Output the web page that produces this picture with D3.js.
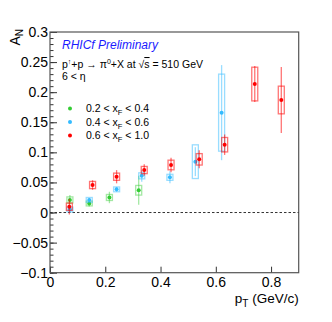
<!DOCTYPE html>
<html>
<head>
<meta charset="utf-8">
<script src="https://cdn.jsdelivr.net/npm/d3@7"></script>
<style>
  body { margin: 0; background: #fff; }
  svg { font-family: "Liberation Sans", Arial, sans-serif; }
</style>
</head>
<body>
<svg id="chart" width="332" height="322"></svg>
<script>
'use strict';

// pT bins and A_N per xF range
const ptLow = [0.072, 0.142, 0.215, 0.321];
const anLow = [0.021, 0.015, 0.025, 0.037];
const statLow = [0.008, 0.005, 0.0095, 0.024];
const sysLow = [0.005, 0.004, 0.005, 0.008];

const ptMid = [0.072, 0.142, 0.241, 0.332, 0.434, 0.526, 0.621];
const anMid = [0.005, 0.021, 0.0385, 0.061, 0.0585, 0.0845, 0.166];
const statMid = [0.005, 0.003, 0.004, 0.010, 0.010, 0.024, 0.079];
const sysMid = [0.004, 0.004, 0.004, 0.005, 0.005, 0.028, 0.064];

const ptHigh = [0.070, 0.154, 0.241, 0.341, 0.438, 0.540, 0.632, 0.741, 0.837];
const anHigh = [0.0096, 0.0457, 0.0595, 0.0706, 0.079, 0.0884, 0.1127, 0.2135, 0.187];
const statHigh = [0.013, 0.008, 0.011, 0.0095, 0.012, 0.015, 0.017, 0.030, 0.055];
const sysHigh = [0.006, 0.006, 0.006, 0.006, 0.008, 0.0095, 0.012, 0.028, 0.023];

const legendLabels = [['0.2', '0.4'], ['0.4', '0.6'], ['0.6', '1.0']];
const xTicks = [0, 0.2, 0.4, 0.6, 0.8];
const yTicks = [-0.1, -0.05, 0, 0.05, 0.1, 0.15, 0.2, 0.25, 0.3];

const series = [
    {pt: ptLow, an: anLow, stat: statLow, sys: sysLow, color: '#33cc33', light: 'rgba(51,204,51,0.45)'},
    {pt: ptMid, an: anMid, stat: statMid, sys: sysMid, color: '#33bbff', light: 'rgba(51,187,255,0.5)'},
    {pt: ptHigh, an: anHigh, stat: statHigh, sys: sysHigh, color: '#ff0000', light: 'rgba(255,0,0,0.55)'}
];

const svg = d3.select('#chart');
const padL = 50, padR = 298.7, padT = 32, padB = 272.7;

const x = d3.scaleLinear().domain([0, 0.9]).range([padL, padR]);
const y = d3.scaleLinear().domain([-0.1, 0.3]).range([padB, padT]);

const fmt = d => (d < 0 ? '\u2212' : '') + String(Math.abs(Math.round(d * 100) / 100));

// minor y ticks
svg.append('g')
    .attr('transform', `translate(${padL},0)`)
    .call(d3.axisLeft(y).tickValues(d3.range(-0.1, 0.3001, 0.01)).tickSize(-3.5).tickFormat(''))
    .call(g => g.select('.domain').remove())
    .selectAll('line').attr('stroke', '#333');

// major y ticks
svg.append('g')
    .attr('transform', `translate(${padL},0)`)
    .call(d3.axisLeft(y).tickValues(yTicks).tickSize(-7).tickPadding(2).tickFormat(fmt))
    .call(g => g.select('.domain').remove())
    .call(g => g.selectAll('line').attr('stroke', '#333'))
    .call(g => g.selectAll('text').attr('font-size', 14).attr('fill', '#000')
        .attr('font-family', '"Liberation Sans", Arial, sans-serif'));

// x ticks
svg.append('g')
    .attr('transform', `translate(0,${padB})`)
    .call(d3.axisBottom(x).tickValues(xTicks).tickSize(-6).tickPadding(4.5).tickFormat(d => d === 0 ? '0' : fmt(d)))
    .call(g => g.select('.domain').remove())
    .call(g => g.selectAll('line').attr('stroke', '#333'))
    .call(g => g.selectAll('text').attr('font-size', 14).attr('fill', '#000')
        .attr('font-family', '"Liberation Sans", Arial, sans-serif'));

// frame
svg.append('rect')
    .attr('x', padL).attr('y', padT)
    .attr('width', padR - padL).attr('height', padB - padT)
    .attr('fill', 'none').attr('stroke', '#555').attr('stroke-width', 1.2);

// zero line
svg.append('line')
    .attr('x1', x(0)).attr('x2', x(0.9)).attr('y1', y(0)).attr('y2', y(0))
    .attr('stroke', '#333').attr('stroke-dasharray', '2.5,2');

// data
const boxHalf = 3;
series.forEach(s => {
    const pts = s.pt.map((p, i) => ({p, a: s.an[i], st: s.stat[i], sy: s.sys[i]}));
    const g = svg.append('g');
    g.selectAll('rect.sys').data(pts).enter().append('rect')
        .attr('x', d => x(d.p) - boxHalf)
        .attr('y', d => y(d.a + d.sy))
        .attr('width', boxHalf * 2)
        .attr('height', d => y(d.a - d.sy) - y(d.a + d.sy))
        .attr('fill', 'none').attr('stroke', s.light).attr('stroke-width', 1.3);
    g.selectAll('line.stat').data(pts).enter().append('line')
        .attr('x1', d => x(d.p)).attr('x2', d => x(d.p))
        .attr('y1', d => y(d.a + d.st)).attr('y2', d => y(d.a - d.st))
        .attr('stroke', s.light).attr('stroke-width', 1.3);
    g.selectAll('circle').data(pts).enter().append('circle')
        .attr('cx', d => x(d.p)).attr('cy', d => y(d.a))
        .attr('r', 2).attr('fill', s.color);
});

// titles
svg.append('text')
    .attr('x', 62).attr('y', 49)
    .attr('font-size', 12).attr('font-style', 'italic').attr('fill', '#1a1aff')
    .text('RHICf Preliminary');

const proc = svg.append('text').attr('x', 62).attr('y', 68).attr('font-size', 10.5).attr('fill', '#000');
proc.append('tspan').text('p');
proc.append('tspan').attr('dy', -4).attr('font-size', 7).text('\u2191');
proc.append('tspan').attr('dy', 4).text('+p \u2192 \u03c0');
proc.append('tspan').attr('dy', -4).attr('font-size', 7).text('0');
proc.append('tspan').attr('dy', 4).text('+X at \u221a');
proc.append('tspan').attr('text-decoration', 'overline').text('s');
proc.append('tspan').text(' = 510 GeV');

svg.append('text').attr('x', 62).attr('y', 80).attr('font-size', 10.5).text('6 < \u03b7');

// legend
legendLabels.forEach((l, i) => {
    const yy = 108.5 + i * 13.5;
    svg.append('circle').attr('cx', 70).attr('cy', yy).attr('r', 2).attr('fill', series[i].color);
    const t = svg.append('text').attr('x', 86).attr('y', yy + 3.5).attr('font-size', 10.5);
    t.append('tspan').text(`${l[0]} < x`);
    t.append('tspan').attr('dy', 3).attr('font-size', 7.5).text('F');
    t.append('tspan').attr('dy', -3).text(` < ${l[1]}`);
});

// axis titles
const yl = svg.append('text')
    .attr('transform', 'translate(20,29) rotate(-90)')
    .attr('text-anchor', 'end').attr('font-size', 14);
yl.append('tspan').text('A');
yl.append('tspan').attr('dy', 3).attr('font-size', 10).text('N');

const xl = svg.append('text')
    .attr('x', padR).attr('y', 303)
    .attr('text-anchor', 'end').attr('font-size', 13.5);
xl.append('tspan').text('p');
xl.append('tspan').attr('dy', 4).attr('font-size', 10).text('T');
xl.append('tspan').attr('dy', -4).text(' (GeV/c)');
</script>
</body>
</html>
